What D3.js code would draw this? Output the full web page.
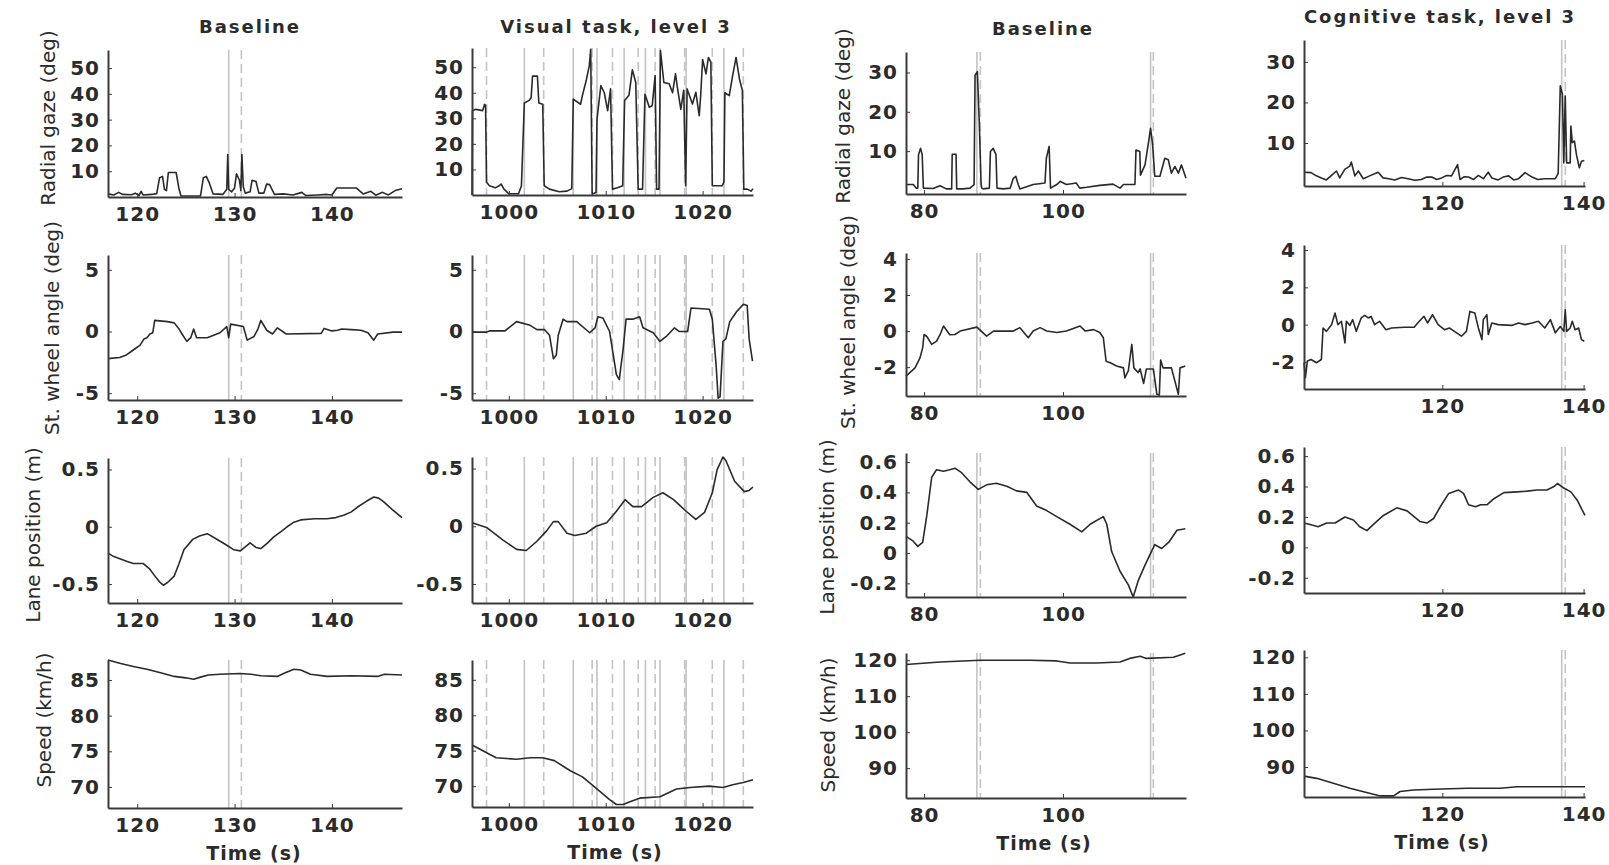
<!DOCTYPE html>
<html>
<head>
<meta charset="utf-8">
<script src="https://cdn.jsdelivr.net/npm/d3@7"></script>
<style>
  body { margin: 0; background: #fff; }
  svg text { font-family: "DejaVu Sans", sans-serif; fill: #2b2b2b; }
  .axis text { font-size: 20px; font-weight: bold; letter-spacing: 1px; }
  .axis path { stroke: #3a3a3a; stroke-width: 2; }
  .axis line { stroke: #3a3a3a; stroke-width: 1; }
  .title { font-size: 18px; font-weight: bold; letter-spacing: 2px; }
  .ylabel { font-size: 20px; }
  .xlabel { font-size: 19px; font-weight: bold; letter-spacing: 1px; }
  .trace { fill: none; stroke: #2a2a2a; stroke-width: 1.6; stroke-linejoin: round; }
  .mark-solid { stroke: #c4c4c4; stroke-width: 1.6; }
  .mark-dashed { stroke: #c4c4c4; stroke-width: 1.6; stroke-dasharray: 9,5; }
</style>
</head>
<body>
<svg id="chart" width="1609" height="865"></svg>
<script>
// ---- column 1: baseline (first driver) ----
const blGaze1 = [[117,1.2],[117.6,0.8],[118.1,1.8],[118.5,1.0],[119.4,0.9],[119.8,1.5],[120.2,0.6],[120.4,2.2],[120.6,0.8],[121.5,1.0],[122.0,1.3],[122.3,7.5],[122.6,8.0],[122.8,3.0],[123.0,2.5],[123.2,9.5],[124.0,9.5],[124.3,3.0],[124.5,0.4],[126.5,0.4],[126.8,7.5],[127.1,8.0],[127.4,5.5],[127.8,1.2],[128.8,1.0],[129.2,3.0],[129.3,16.5],[129.4,3.0],[129.7,2.0],[130.0,3.5],[130.2,9.0],[130.5,6.5],[130.65,2.5],[130.75,16.5],[130.9,4.0],[131.1,1.5],[131.6,2.0],[131.8,6.5],[132.2,6.0],[132.5,1.5],[133.0,1.5],[133.3,5.0],[133.6,4.8],[134.1,1.0],[135.0,1.2],[136.0,0.8],[136.9,1.8],[137.3,0.6],[138.5,0.8],[139.5,1.0],[140.0,0.8],[140.5,3.5],[142.5,3.5],[143.2,1.2],[144.0,2.2],[144.5,0.7],[145.2,1.8],[145.8,0.8],[146.5,2.5],[147.2,3.2]];
const blSteer1 = [[117,-2.2],[118.2,-2.1],[118.9,-1.9],[119.6,-1.5],[120.3,-1.1],[120.7,-0.6],[121.0,-0.5],[121.3,-0.2],[121.6,-0.1],[121.8,0.9],[123.1,0.8],[123.8,0.7],[124.3,0.2],[124.6,-0.2],[125.1,-0.8],[125.5,-0.5],[125.8,0.2],[126.1,-0.5],[127.2,-0.5],[128.5,-0.1],[129.2,0.4],[129.4,-0.5],[129.6,0.6],[130.9,0.4],[131.3,-0.7],[132.0,-0.4],[132.4,0.2],[132.7,0.9],[133.3,0.1],[133.9,-0.2],[134.4,0.3],[135.3,-0.2],[138.9,-0.15],[139.2,0.25],[140.0,0.05],[140.6,0.1],[141.0,0.2],[142.0,0.15],[143.0,0.1],[143.7,-0.1],[144.3,-0.7],[144.7,-0.2],[146.3,-0.05],[147.2,-0.05]];
const blLane1 = [[117,-0.23],[117.6,-0.26],[118.9,-0.30],[119.6,-0.32],[120.6,-0.32],[121.3,-0.37],[122.0,-0.45],[122.4,-0.49],[122.7,-0.51],[123.2,-0.48],[123.8,-0.43],[124.3,-0.32],[124.8,-0.2],[125.7,-0.11],[126.4,-0.08],[127.2,-0.06],[128.0,-0.1],[129.0,-0.15],[129.9,-0.2],[130.6,-0.21],[131.6,-0.14],[132.2,-0.18],[132.7,-0.19],[133.4,-0.14],[134.0,-0.09],[134.8,-0.04],[135.4,0.0],[136.1,0.04],[136.8,0.06],[138.2,0.07],[139.5,0.07],[140.4,0.08],[141.2,0.1],[142.0,0.13],[142.6,0.17],[143.5,0.22],[144.3,0.26],[144.8,0.25],[145.3,0.22],[146.2,0.15],[147.2,0.08]];
const blSpeed1 = [[117,87.8],[118.3,87.3],[119.6,86.9],[121.0,86.5],[122.4,86.0],[123.8,85.5],[125.0,85.3],[125.8,85.1],[126.5,85.4],[127.3,85.7],[128.5,85.8],[130.6,85.9],[131.7,85.8],[132.7,85.6],[134.4,85.5],[135.2,86.0],[136.1,86.5],[136.8,86.4],[137.8,85.8],[139.5,85.5],[142.0,85.6],[144.7,85.5],[145.4,85.8],[147.2,85.7]];
const blSolid1 = [129.4];
const blDashed1 = [130.7];

// ---- column 2: visual task, level 3 ----
const visGaze = [[996.2,0],[996.25,33],[996.6,33.5],[997.3,33],[997.5,35.5],[997.6,35],[997.7,5],[998.0,3.6],[998.6,2.8],[999.0,3.6],[999.2,4.3],[999.5,2.3],[1000.0,0.5],[1001.0,0.5],[1001.3,3.5],[1001.6,36],[1002.1,37],[1002.3,38],[1002.45,46.5],[1002.95,46.5],[1003.1,36],[1003.5,35.5],[1003.65,3.6],[1004.2,2.3],[1005.2,1.3],[1006.0,1.5],[1006.5,2.5],[1006.65,37.5],[1007.4,35.5],[1007.6,39],[1008.0,45],[1008.3,50.5],[1008.45,57],[1008.6,0.4],[1009.0,1],[1009.1,29.7],[1009.5,42.8],[1009.85,40],[1010.2,33],[1010.5,41.5],[1010.7,2.3],[1011.2,2.8],[1011.75,3.6],[1011.95,37],[1012.4,39],[1012.75,49],[1013.1,44],[1013.35,2.3],[1013.8,2.3],[1014.05,39.4],[1014.5,34.3],[1014.8,35],[1015.1,46.7],[1015.25,2.3],[1015.5,2.3],[1015.65,56.5],[1016.0,44],[1016.55,43.5],[1016.9,40],[1017.2,47.4],[1017.4,42],[1017.75,33.5],[1018.05,41],[1018.25,3.6],[1018.4,41.5],[1018.95,35.6],[1019.3,40.2],[1019.65,31],[1019.8,38.9],[1020.0,53],[1020.35,47.4],[1020.6,53.8],[1020.85,52],[1021.0,3.6],[1022.0,3.6],[1022.2,5],[1022.3,40],[1022.75,38.9],[1023.1,46.7],[1023.45,53.8],[1023.8,45.4],[1024.1,41],[1024.25,2.3],[1024.6,2.3],[1025.0,1.5],[1025.2,2.5]];
const visSteer = [[996.2,-0.05],[997.7,-0.05],[998.0,0.05],[999.6,0.05],[1000.8,0.8],[1002.2,0.5],[1002.9,0.15],[1003.7,0.15],[1004.2,-0.3],[1004.6,-2.2],[1004.9,-1.9],[1005.1,-0.3],[1005.6,1.0],[1006.0,0.8],[1007.0,0.8],[1008.35,-0.1],[1008.9,0.3],[1009.2,1.2],[1009.7,1.1],[1010.4,0.0],[1011.1,-3.5],[1011.4,-3.9],[1011.8,-1.4],[1012.1,1.0],[1012.8,1.0],[1013.5,1.2],[1013.85,0.3],[1014.9,-0.1],[1015.6,-0.8],[1016.25,-0.4],[1017.1,0.3],[1017.6,0.0],[1018.45,0.0],[1018.8,1.9],[1020.7,1.8],[1021.0,1.0],[1021.4,-2.8],[1021.6,-5.4],[1021.8,-5.3],[1022.1,-0.8],[1022.4,-0.6],[1022.8,0.8],[1023.5,1.6],[1024.2,2.2],[1024.6,2.1],[1024.8,-0.6],[1025.15,-2.4]];
const visLane = [[996.2,0.03],[997.7,-0.01],[999.4,-0.12],[1000.8,-0.2],[1001.8,-0.21],[1002.9,-0.13],[1003.9,-0.04],[1004.6,0.04],[1005.1,0.04],[1006.0,-0.06],[1006.8,-0.08],[1008.0,-0.06],[1009.0,0.0],[1010.1,0.03],[1011.1,0.13],[1012.0,0.23],[1012.8,0.17],[1013.7,0.17],[1014.9,0.25],[1015.9,0.29],[1017.0,0.23],[1018.3,0.13],[1019.3,0.06],[1020.2,0.12],[1021.0,0.29],[1021.5,0.49],[1022.1,0.6],[1022.4,0.57],[1023.3,0.39],[1024.3,0.3],[1024.8,0.31],[1025.2,0.34]];
const visSpeed = [[996.2,75.8],[998.05,74.45],[998.7,74.0],[1000.8,73.8],[1002.2,74.0],[1003.5,74.0],[1004.7,73.6],[1006.3,72.2],[1007.6,71.3],[1009.0,69.7],[1010.4,68.1],[1011.1,67.4],[1011.8,67.4],[1012.5,67.8],[1013.5,68.3],[1015.6,68.5],[1017.3,69.6],[1018.7,69.8],[1020.7,70.0],[1022.1,69.8],[1023.1,70.2],[1024.2,70.5],[1025.2,70.9]];
const visSolid = [1001.6,1006.65,1009.1,1011.9,1014.1,1015.6,1018.3,1022.2];
const visDashed = [997.7,1003.6,1008.6,1010.7,1013.35,1015.1,1018.15,1021.0,1024.2];

// ---- column 3: baseline (second driver) ----
const blGaze2 = [[77.4,1.5],[78.45,1.5],[78.85,0.6],[79.1,0.6],[79.2,9.1],[79.5,10.7],[79.73,9.1],[79.9,0.6],[81.3,0.5],[82.3,1.2],[83.2,0.4],[83.97,0.4],[84.05,9.2],[84.6,9.2],[84.7,0.4],[85.6,0.4],[86.6,0.6],[87.2,1.5],[87.34,29.3],[87.67,30.2],[87.96,16.6],[88.2,2],[88.3,0.6],[88.5,0.4],[89.4,0.6],[89.55,9.9],[89.95,10.7],[90.35,9.1],[90.5,0.6],[91.4,0.4],[92.4,0.6],[92.85,3.1],[93.2,3.6],[93.55,1.5],[93.8,0.4],[95.7,1.5],[97.4,1.9],[97.6,8.2],[98.0,11.2],[98.2,0.6],[99.1,1.5],[99.6,2.3],[100.5,1.5],[101.9,1.9],[102.4,0.6],[103.4,0.8],[105.3,1.3],[107.2,1.6],[108.2,0.6],[108.7,1.5],[110.35,1.5],[110.5,10.3],[111.05,9.9],[111.15,3.9],[111.8,6.5],[112.25,11.6],[112.6,15.8],[112.9,11.6],[113.2,3.6],[113.95,3.6],[114.65,8.2],[115.15,7.8],[115.6,4.4],[116.1,6.1],[116.6,4.4],[117.05,6.5],[117.7,3.1]];
const blSteer2 = [[77.4,-2.5],[78.7,-2.04],[79.4,-1.5],[79.8,-0.93],[80.0,-0.19],[80.4,-0.3],[81.1,-0.74],[81.8,-0.56],[82.3,-0.2],[82.8,0.28],[83.7,-0.2],[84.45,-0.19],[85.2,0.0],[87.6,0.22],[89.0,-0.28],[90.0,0.0],[92.85,0.0],[93.8,0.19],[95.0,-0.37],[95.7,0.0],[96.7,0.19],[97.65,0.0],[99.1,-0.08],[100.5,0.0],[102.45,0.28],[103.2,0.0],[104.4,0.08],[105.3,-0.08],[105.8,-0.37],[106.2,-1.67],[106.8,-1.76],[107.7,-1.94],[108.7,-2.04],[108.9,-2.6],[109.4,-2.2],[109.9,-0.74],[110.2,-2.04],[110.8,-2.3],[111.1,-2.1],[111.6,-2.9],[112.0,-2.1],[113.0,-2.1],[113.5,-3.5],[113.86,-3.55],[114.05,-1.6],[114.4,-2.04],[115.6,-2.04],[116.6,-3.5],[116.84,-2.04],[117.6,-1.94]];
const blLane2 = [[77.4,0.11],[78.4,0.08],[79.1,0.044],[79.8,0.07],[80.4,0.25],[81.1,0.5],[81.8,0.55],[82.8,0.54],[83.7,0.55],[84.45,0.56],[85.4,0.53],[86.6,0.47],[87.8,0.42],[89.0,0.45],[90.4,0.46],[91.9,0.44],[93.3,0.41],[94.8,0.4],[96.2,0.31],[97.65,0.28],[99.1,0.24],[101.0,0.19],[102.7,0.14],[103.9,0.19],[105.8,0.24],[106.3,0.19],[107.0,0.01],[108.2,-0.12],[109.4,-0.21],[110.1,-0.29],[110.84,-0.18],[111.8,-0.08],[113.2,0.055],[114.2,0.03],[115.2,0.07],[116.4,0.15],[117.6,0.16]];
const blSpeed2 = [[77.4,118.8],[82.3,119.5],[88.1,120.0],[95.2,120.0],[99.1,119.8],[101.0,119.2],[104.8,119.2],[108.2,119.5],[109.6,120.5],[111.1,121.1],[112.0,120.5],[115.9,120.8],[117.6,121.9]];
const blSolid2 = [87.6,112.6];
const blDashed2 = [88.1,113.0];

// ---- column 4: cognitive task, level 3 ----
const cogGaze = [[100.4,2.8],[101.4,2.7],[102.15,1.9],[102.86,1.4],[103.57,0.9],[104.3,2.0],[105.0,3.1],[105.46,1.4],[106.17,3.5],[106.88,4.3],[107.1,5.3],[107.6,1.9],[108.1,3.1],[108.8,1.2],[109.7,1.9],[110.9,2.8],[111.6,1.4],[112.4,1.2],[113.26,0.9],[114.2,1.5],[115.15,1.2],[116.1,0.8],[117.0,1.0],[117.8,1.6],[118.5,1.6],[119.2,1.0],[119.9,1.4],[120.6,2.0],[121.3,1.9],[122.15,4.7],[122.5,1.0],[123.1,1.7],[123.7,1.6],[124.4,1.0],[125.1,2.0],[125.8,1.2],[126.5,2.8],[127.0,1.4],[127.9,0.9],[128.6,1.6],[129.4,1.9],[130.1,0.9],[130.8,1.2],[131.7,2.7],[132.7,1.6],[133.5,1.0],[134.5,1.2],[136.0,1.2],[136.4,2.5],[136.7,24.1],[137.0,22.0],[137.2,5.1],[137.4,21.6],[137.6,5.1],[138.1,5.1],[138.2,14.2],[138.4,10.1],[138.7,10.5],[139.0,7.0],[139.4,3.9],[139.7,5.5],[140.1,5.7]];
const cogSteer = [[100.4,-2.04],[100.6,-2.84],[100.88,-1.95],[101.4,-1.87],[102.15,-2.04],[102.86,-1.87],[103.1,-0.18],[103.57,-0.36],[104.3,0.0],[104.8,0.62],[105.2,0.0],[105.7,0.18],[106.2,-0.98],[106.4,0.18],[106.9,-0.04],[107.3,0.27],[107.8,-0.36],[108.5,0.36],[109.0,0.5],[109.5,0.36],[109.9,0.44],[110.4,0.0],[111.1,0.18],[112.0,-0.27],[112.8,-0.18],[114.6,-0.14],[116.0,-0.14],[116.5,0.09],[117.4,0.45],[117.9,0.09],[118.6,0.53],[119.4,0.0],[120.3,-0.27],[121.0,-0.18],[121.7,-0.36],[122.7,-0.62],[123.4,-0.36],[123.9,0.71],[124.6,0.62],[125.1,-0.18],[125.6,-0.8],[125.8,0.27],[126.3,0.53],[126.5,-0.53],[127.0,0.09],[127.9,0.0],[129.8,-0.04],[130.8,0.09],[131.7,0.0],[132.7,0.09],[133.6,0.18],[134.5,-0.18],[135.3,0.27],[136.0,-0.44],[136.7,-0.1],[137.2,-0.36],[137.4,0.8],[137.6,-0.36],[138.1,-0.18],[138.4,0.18],[138.8,-0.27],[139.3,-0.18],[139.7,-0.8],[140.1,-0.89]];
const cogLane = [[100.4,0.16],[101.25,0.15],[102.4,0.136],[103.6,0.16],[104.8,0.16],[106.2,0.2],[107.4,0.18],[108.3,0.136],[109.3,0.11],[110.2,0.15],[111.65,0.21],[113.55,0.26],[115.0,0.24],[116.85,0.17],[117.8,0.16],[118.75,0.19],[119.7,0.267],[120.9,0.355],[122.3,0.377],[123.0,0.355],[123.7,0.28],[124.7,0.267],[125.4,0.28],[126.3,0.28],[127.3,0.32],[128.7,0.36],[130.6,0.365],[132.0,0.37],[133.4,0.377],[134.8,0.377],[135.8,0.4],[136.3,0.42],[137.2,0.39],[138.2,0.365],[139.1,0.31],[139.8,0.245],[140.2,0.21]];
const cogSpeed = [[100.4,87.5],[102.2,86.9],[106.9,84.2],[111.2,82.1],[113.1,82.1],[114.0,83.3],[115.9,83.7],[118.75,83.9],[123.5,84.2],[128.2,84.2],[130.6,84.6],[135.3,84.6],[140.2,84.6]];
const cogSolid = [136.9];
const cogDashed = [137.4];

// ---- tick labels ----
const xTicks1 = [120, 130, 140];
const xTicks2 = [1000, 1010, 1020];
const xTicks3 = [80, 100];
const xTicks4 = [120, 140];
const gazeTicksA = [10, 20, 30, 40, 50];
const gazeTicksB = [10, 20, 30];
const steerTicksA = [-5, 0, 5];
const steerTicksB = [-2, 0, 2, 4];
const laneTicksA = [-0.5, 0, 0.5];
const laneTicksB = [-0.2, 0, 0.2, 0.4, 0.6];
const speedTicksA = [70, 75, 80, 85];
const speedTicksB = [90, 100, 110, 120];

const titles = ["Baseline", "Visual task, level 3", "Baseline", "Cognitive task, level 3"];
const yLabels = ["Radial gaze (deg)", "St. wheel angle (deg)", "Lane position (m)", "Speed (km/h)"];

// layout of every column (pixels) and the axis ranges
const columns = [
  { title: titles[0], titleX: 250, titleY: 27, left: 108, right: 402, xDomain: [117, 147.2], xTicks: xTicks1,
    solid: blSolid1, dashed: blDashed1, timeX: 254, timeY: 853,
    labels: [[48, 118], [52, 328], [33, 535], [44, 720]],
    panels: [
      { data: blGaze1, top: 50, bottom: 197, yDomain: [0, 57], yTicks: gazeTicksA },
      { data: blSteer1, top: 255, bottom: 400, yDomain: [-5.55, 6.2], yTicks: steerTicksA },
      { data: blLane1, top: 458, bottom: 603, yDomain: [-0.665, 0.6], yTicks: laneTicksA },
      { data: blSpeed1, top: 660, bottom: 808, yDomain: [67.05, 87.8], yTicks: speedTicksA }
    ] },
  { title: titles[1], titleX: 616, titleY: 27, left: 472, right: 753, xDomain: [996.2, 1025.2], xTicks: xTicks2,
    solid: visSolid, dashed: visDashed, timeX: 615, timeY: 852,
    labels: null,
    panels: [
      { data: visGaze, top: 48, bottom: 195, yDomain: [0, 57.5], yTicks: gazeTicksA },
      { data: visSteer, top: 255, bottom: 400, yDomain: [-5.55, 6.2], yTicks: steerTicksA },
      { data: visLane, top: 457, bottom: 603, yDomain: [-0.665, 0.6], yTicks: laneTicksA },
      { data: visSpeed, top: 660, bottom: 807, yDomain: [67.05, 87.8], yTicks: speedTicksA }
    ] },
  { title: titles[2], titleX: 1043, titleY: 29, left: 906, right: 1186, xDomain: [77.4, 117.7], xTicks: xTicks3,
    solid: blSolid2, dashed: blDashed2, timeX: 1044, timeY: 843,
    labels: [[843, 116], [848, 322], [827, 527], [828, 725]],
    panels: [
      { data: blGaze2, top: 52, bottom: 194, yDomain: [-0.9, 35.2], yTicks: gazeTicksB },
      { data: blSteer2, top: 253, bottom: 396, yDomain: [-3.6, 4.33], yTicks: steerTicksB },
      { data: blLane2, top: 453, bottom: 597, yDomain: [-0.29, 0.66], yTicks: laneTicksB },
      { data: blSpeed2, top: 653, bottom: 798, yDomain: [81.7, 122], yTicks: speedTicksB }
    ] },
  { title: titles[3], titleX: 1440, titleY: 17, left: 1304, right: 1585, xDomain: [100.4, 140.2], xTicks: xTicks4,
    solid: cogSolid, dashed: cogDashed, timeX: 1442, timeY: 842,
    labels: null,
    panels: [
      { data: cogGaze, top: 40, bottom: 186, yDomain: [-0.6, 35.4], yTicks: gazeTicksB },
      { data: cogSteer, top: 245, bottom: 389, yDomain: [-3.45, 4.27], yTicks: steerTicksB },
      { data: cogLane, top: 447, bottom: 593, yDomain: [-0.3, 0.66], yTicks: laneTicksB },
      { data: cogSpeed, top: 650, bottom: 797, yDomain: [81.8, 122], yTicks: speedTicksB }
    ] }
];

const svg = d3.select("#chart");

columns.forEach(col => {
  const x = d3.scaleLinear().domain(col.xDomain).range([col.left, col.right]);

  svg.append("text")
    .attr("class", "title")
    .attr("x", col.titleX)
    .attr("y", col.titleY)
    .attr("dy", "0.35em")
    .attr("text-anchor", "middle")
    .text(col.title);

  col.panels.forEach((p, i) => {
    const y = d3.scaleLinear().domain(p.yDomain).range([p.bottom, p.top]);
    const g = svg.append("g");

    // glance start (solid) / end (dashed) markers
    g.selectAll(".mark-solid")
      .data(col.solid)
      .join("line")
      .attr("class", "mark-solid")
      .attr("x1", d => x(d)).attr("x2", d => x(d))
      .attr("y1", p.top).attr("y2", p.bottom);

    g.selectAll(".mark-dashed")
      .data(col.dashed)
      .join("line")
      .attr("class", "mark-dashed")
      .attr("x1", d => x(d)).attr("x2", d => x(d))
      .attr("y1", p.top).attr("y2", p.bottom);

    const line = d3.line()
      .x(d => x(d[0]))
      .y(d => y(d[1]));

    g.append("path")
      .datum(p.data)
      .attr("class", "trace")
      .attr("d", line);

    g.append("g")
      .attr("class", "axis")
      .attr("transform", "translate(0," + p.bottom + ")")
      .call(d3.axisBottom(x).tickValues(col.xTicks).tickSizeInner(-4).tickSizeOuter(0).tickPadding(10)
        .tickFormat(d => String(d)));

    g.append("g")
      .attr("class", "axis")
      .attr("transform", "translate(" + col.left + ",0)")
      .call(d3.axisLeft(y).tickValues(p.yTicks).tickSizeInner(-4).tickSizeOuter(0).tickPadding(8)
        .tickFormat(d => String(d)));

    if (col.labels) {
      const [lx, ly] = col.labels[i];
      svg.append("text")
        .attr("class", "ylabel")
        .attr("transform", "translate(" + lx + "," + ly + ") rotate(-90)")
        .attr("dy", "0.35em")
        .attr("text-anchor", "middle")
        .text(yLabels[i]);
    }
  });

  svg.append("text")
    .attr("class", "xlabel")
    .attr("x", col.timeX)
    .attr("y", col.timeY)
    .attr("dy", "0.35em")
    .attr("text-anchor", "middle")
    .text("Time (s)");
});
</script>
</body>
</html>
